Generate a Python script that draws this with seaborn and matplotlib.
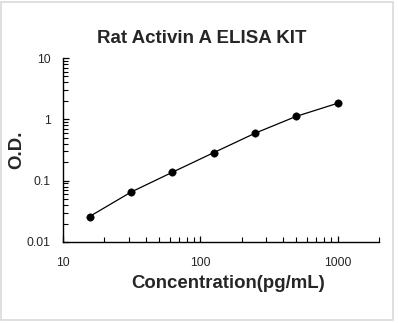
import matplotlib
matplotlib.use("Agg")
import matplotlib.pyplot as plt
import matplotlib.ticker as mticker
from matplotlib.patches import Rectangle
import pandas as pd
import seaborn as sns

# standard curve data
concentration = [15.6, 31.25, 62.5, 125, 250, 500, 1000]
od = [0.026, 0.065, 0.137, 0.286, 0.593, 1.12, 1.83]

df = pd.DataFrame({"conc": concentration, "od": od})

sns.set_style("white")
plt.rcParams["font.family"] = ["Liberation Sans", "DejaVu Sans"]

fig = plt.figure(figsize=(3.98, 3.23), dpi=100)
ax = fig.add_axes([0.1583, 0.2508, 0.794, 0.5696])

sns.lineplot(data=df, x="conc", y="od", color="black", linewidth=0.9, ax=ax)
sns.scatterplot(data=df, x="conc", y="od", color="black", s=28, edgecolor="black", zorder=3, ax=ax)

ax.set_xscale("log")
ax.set_yscale("log")
ax.set_xlim(10, 2000)
ax.set_ylim(0.01, 10)

x_minor = [m * d for d in (10, 100, 1000) for m in range(2, 10)]
x_minor = [v for v in x_minor if v <= 2000]
y_minor = [m * d for d in (0.01, 0.1, 1) for m in range(2, 10)]

ax.xaxis.set_major_locator(mticker.FixedLocator([10, 100, 1000]))
ax.xaxis.set_major_formatter(mticker.FixedFormatter(["10", "100", "1000"]))
ax.xaxis.set_minor_locator(mticker.FixedLocator(x_minor))
ax.xaxis.set_minor_formatter(mticker.NullFormatter())
ax.yaxis.set_major_locator(mticker.FixedLocator([0.01, 0.1, 1, 10]))
ax.yaxis.set_major_formatter(mticker.FixedFormatter(["0.01", "0.1", "1", "10"]))
ax.yaxis.set_minor_locator(mticker.FixedLocator(y_minor))
ax.yaxis.set_minor_formatter(mticker.NullFormatter())

ax.tick_params(which="both", bottom=True, left=True, top=False, right=False)
ax.tick_params(which="major", direction="in", length=4.5, width=0.9, color="black",
               labelsize=8.8, pad=9)
ax.tick_params(which="minor", direction="in", length=3.5, width=0.8, color="black")
ax.tick_params(axis="x", which="major", pad=11)

for side in ["top", "right"]:
    ax.spines[side].set_visible(False)
for side in ["left", "bottom"]:
    ax.spines[side].set_color("black")
    ax.spines[side].set_linewidth(1.0)

ax.set_xlabel("")
ax.set_ylabel("")
fig.text(0.507, 0.882, "Rat Activin A ELISA KIT", ha="center", va="center",
         fontsize=13.5, fontweight="bold")
fig.text(0.573, 0.121, "Concentration(pg/mL)", ha="center", va="center",
         fontsize=13.4, fontweight="bold")
fig.text(0.043, 0.536, "O.D.", ha="center", va="center", rotation=90,
         fontsize=13.4, fontweight="bold")

fig.patches.append(Rectangle((0.003, 0.009), 0.984, 0.985, transform=fig.transFigure,
                             fill=False, edgecolor="#d9d9d9", linewidth=1.2))

fig.savefig("out.png", dpi=100)
